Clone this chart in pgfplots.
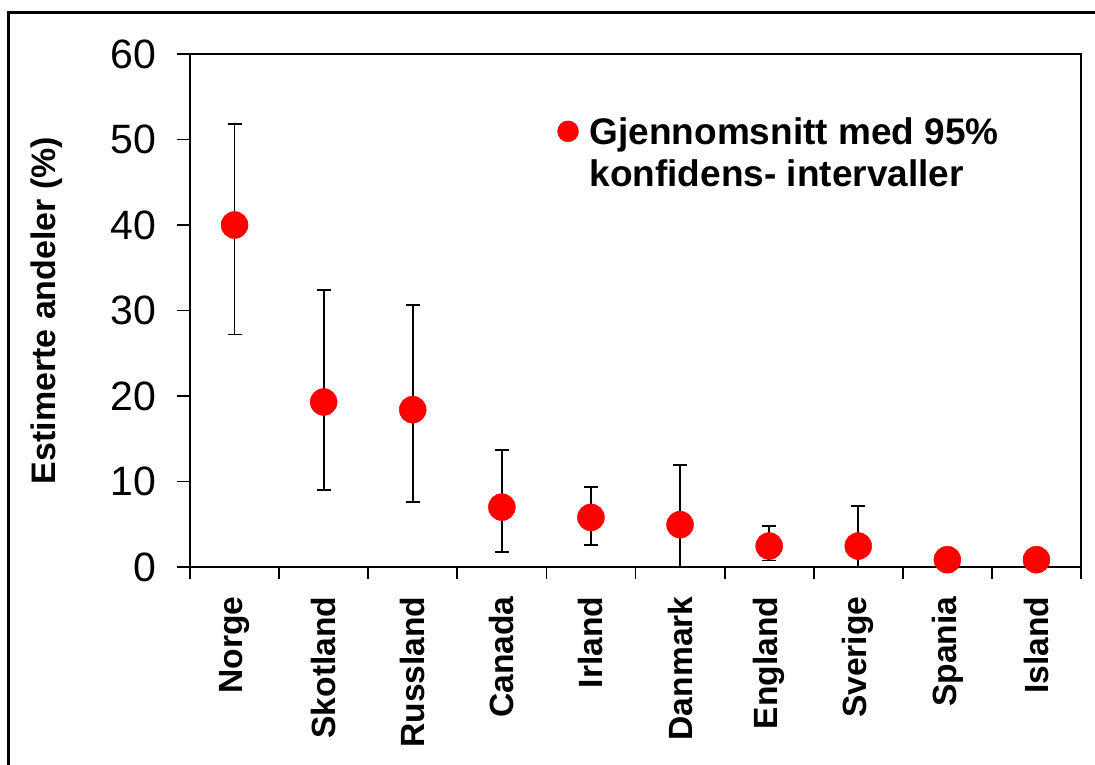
\documentclass[border=0pt]{standalone}
\usepackage{fontspec}
\setmainfont{Liberation Sans}
\usepackage{pgfplots}
\pgfplotsset{compat=1.18}

\pgfplotstableread{
x  y     ep    em
1  40.0  11.8  12.8
2  19.3  13.1  10.3
3  18.4  12.2  10.8
4  7.0   6.7   5.25
5  5.8   3.6   3.2
6  4.95  6.95  4.95
7  2.45  2.35  1.7
8  2.45  4.65  2.45
}\errtable

\pgfplotstableread{
x  y
1  40.0
2  19.3
3  18.4
4  7.0
5  5.8
6  4.95
7  2.45
8  2.45
9  0.85
10 0.85
}\meantable

\begin{document}
\begin{tikzpicture}[x=1pt,y=1pt]
\useasboundingbox (0,0) rectangle (1095,765);
% outer frame (only top and left edge visible)
\draw[line width=2.6pt] (8.5,0) -- (8.5,752.5) -- (1095,752.5);

\begin{axis}[
    at={(190pt,198pt)}, anchor=south west,
    scale only axis,
    width=891pt, height=513pt,
    xmin=0.5, xmax=10.5,
    ymin=0, ymax=60,
    ytick={0,10,20,30,40,50,60},
    ytick pos=left,
    xtick pos=bottom,
    xtick={1,2,3,4,5,6,7,8,9,10},
    xticklabels={Norge,Skotland,Russland,Canada,Irland,Danmark,England,Sverige,Spania,Island},
    major x tick style={draw=none},
    minor xtick={0.5,1.5,2.5,3.5,4.5,5.5,6.5,7.5,8.5,9.5,10.5},
    tick align=outside,
    major tick length=13pt,
    minor tick length=12pt,
    every tick/.style={black, line width=1.8pt},
    axis line style={line width=1.8pt},
    /pgf/number format/assume math mode=true,
    yticklabel style={font=\fontsize{41}{46}\selectfont, xshift=-17pt},
    xticklabel style={rotate=90, anchor=east, font=\bfseries\fontsize{33.6}{38}\selectfont, xshift=-13pt},
    ylabel={Estimerte andeler (\%)},
    ylabel style={font=\bfseries\fontsize{34}{38}\selectfont, yshift=41pt},
    legend style={draw=none, fill=none, at={(0.4087,0.885)}, anchor=north west,
        font=\bfseries\fontsize{37}{42}\selectfont, row sep=10pt,
        nodes={inner sep=2pt}},
    legend cell align=left,
]
\addplot[draw=none, mark=none, forget plot,
    error bars/.cd, y dir=both, y explicit,
    error bar style={draw=black, line width=1.8pt},
    error mark options={draw=black, rotate=90, mark size=7pt, line width=1.8pt}]
    table[x=x, y=y, y error plus=ep, y error minus=em] {\errtable};

\addplot[only marks, mark=*, mark size=13.5pt, color=red, forget plot]
    table[x=x, y=y] {\meantable};

\addlegendimage{legend image code/.code={\fill[red] (0pt,0pt) circle (10.5pt); \path[draw=none] (0pt,0pt) -- (19.5pt,0pt);}}
\addlegendentry{Gjennomsnitt med 95\%}
\addlegendimage{empty legend}
\addlegendentry{konfidens- intervaller}
\end{axis}
\end{tikzpicture}
\end{document}
